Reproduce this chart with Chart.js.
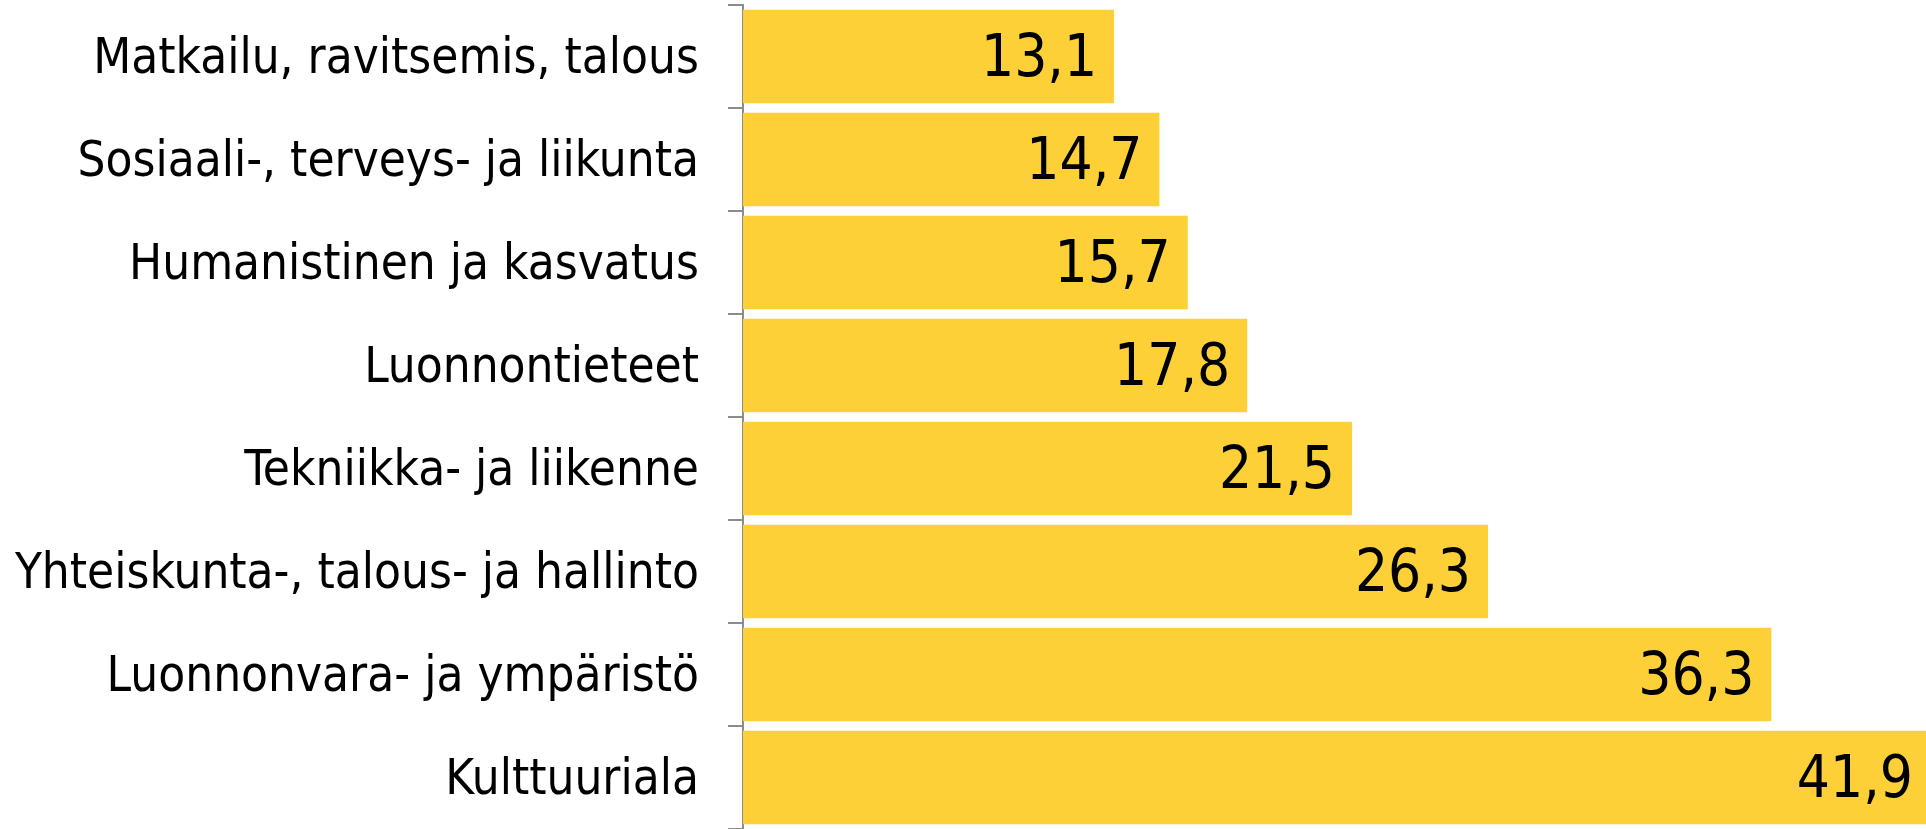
<!DOCTYPE html>
<html>
<head>
<meta charset="utf-8">
<script src="https://cdn.jsdelivr.net/npm/chart.js@4/dist/chart.umd.min.js"></script>
<style>
  html, body { margin: 0; padding: 0; background: #fff; }
  #wrap { width: 1926px; height: 829px; }
</style>
</head>
<body>
<div id="wrap"><canvas id="chart" width="1926" height="829"></canvas></div>
<script>
// alat ja osuudet
const categories = [
    "Matkailu, ravitsemis, talous",
    "Sosiaali-, terveys- ja liikunta",
    "Humanistinen ja kasvatus",
    "Luonnontieteet",
    "Tekniikka- ja liikenne",
    "Yhteiskunta-, talous- ja hallinto",
    "Luonnonvara- ja ympäristö",
    "Kulttuuriala"
];
const values = [13.1, 14.7, 15.7, 17.8, 21.5, 26.3, 36.3, 41.9];

const fontName = "'DejaVu Sans Condensed', 'DejaVu Sans', sans-serif";

// arvot palkkien päihin
const valueLabels = {
    id: "valueLabels",
    afterDatasetsDraw(chart) {
        const ctx = chart.ctx;
        const meta = chart.getDatasetMeta(0);
        ctx.save();
        ctx.font = "58px " + fontName;
        ctx.fillStyle = "#000";
        ctx.textAlign = "right";
        ctx.textBaseline = "middle";
        meta.data.forEach((bar, i) => {
            const txt = values[i].toFixed(1).replace(".", ",");
            ctx.fillText(txt, bar.x - 17, bar.y + 4);
        });
        ctx.restore();
    }
};

const ctx = document.getElementById("chart").getContext("2d");
new Chart(ctx, {
    type: "bar",
    data: {
        labels: categories,
        datasets: [{
            data: values,
            backgroundColor: "#FCD036",
            borderWidth: 0,
            barPercentage: 0.91,
            categoryPercentage: 1.0
        }]
    },
    options: {
        indexAxis: "y",
        responsive: false,
        animation: false,
        layout: { padding: { top: 5, right: 0, bottom: 0, left: 0 } },
        plugins: {
            legend: { display: false },
            tooltip: { enabled: false }
        },
        scales: {
            x: {
                display: false,
                min: 0,
                max: 41.76
            },
            y: {
                afterFit: s => {
                    s.width = 743;
                    s.paddingTop = 0;
                    s.paddingBottom = 0;
                },
                grid: {
                    offset: true,
                    drawOnChartArea: false,
                    drawTicks: true,
                    tickLength: 15,
                    color: "#8c8c8c",
                    lineWidth: 2
                },
                border: { display: true, color: "#8c8c8c", width: 2 },
                ticks: {
                    color: "#000",
                    padding: 29,
                    labelOffset: 4,
                    font: { family: fontName, size: 49 }
                }
            }
        }
    },
    plugins: [valueLabels]
});
</script>
</body>
</html>
